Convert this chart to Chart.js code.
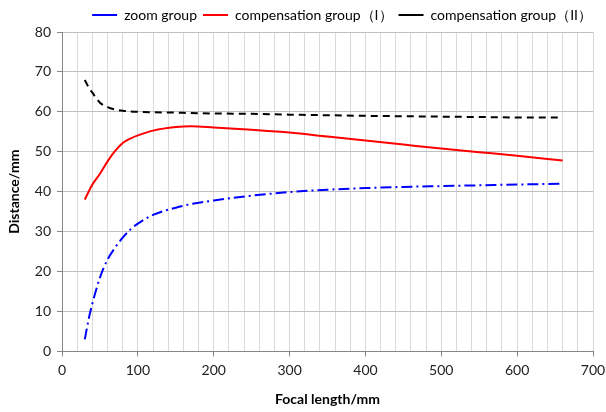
<!DOCTYPE html>
<html>
<head>
<meta charset="utf-8">
<script src="https://cdn.jsdelivr.net/npm/chart.js@4.4.1/dist/chart.umd.min.js"></script>
<style>
  html, body { margin: 0; padding: 0; background: #fff; }
  #wrap { width: 606px; height: 412px; }
</style>
</head>
<body>
<div id="wrap"><canvas id="focalChart"></canvas></div>
<script>
// focal length samples (mm)
const focal = [30, 35, 40, 50, 60, 70, 80, 90, 100, 120, 150, 170, 200, 250, 300, 350, 400, 450, 500, 550, 600, 660];

// series values (mm)
const zoomGroup = [3, 8, 12, 18.5, 23, 26, 28.5, 30.5, 32, 34.2, 36, 36.9, 37.8, 39, 39.9, 40.5, 40.9, 41.2, 41.4, 41.6, 41.8, 42];
const compGroup1 = [38, 40, 41.8, 44.5, 47.6, 50.2, 52.2, 53.3, 54.1, 55.3, 56.2, 56.4, 56.1, 55.5, 54.8, 53.8, 52.8, 51.8, 50.8, 49.9, 49, 47.8];
const compGroup2 = [68, 66.2, 64.8, 62.3, 61.2, 60.6, 60.3, 60.1, 60, 59.9, 59.8, 59.7, 59.6, 59.5, 59.3, 59.15, 59, 58.9, 58.8, 58.7, 58.6, 58.6];

const seriesNames = ['zoom group', 'compensation group（I）', 'compensation group（II）'];
const xTicks = [0, 100, 200, 300, 400, 500, 600, 700];
const yTicks = [0, 10, 20, 30, 40, 50, 60, 70, 80];

const FONT = 'Lato, "Open Sans", sans-serif';

function pts(values) {
  return focal.map((f, i) => ({ x: f, y: values[i] }));
}

new Chart(document.getElementById('focalChart'), {
  type: 'line',
  data: {
    datasets: [
      {
        label: seriesNames[0],
        data: pts(zoomGroup),
        borderColor: '#0000ff',
        backgroundColor: '#0000ff',
        borderWidth: 2,
        borderDash: [11, 4, 2, 4],
        pointRadius: 0,
        cubicInterpolationMode: 'monotone'
      },
      {
        label: seriesNames[1],
        data: pts(compGroup1),
        borderColor: '#ff0000',
        backgroundColor: '#ff0000',
        borderWidth: 2,
        pointRadius: 0,
        cubicInterpolationMode: 'monotone'
      },
      {
        label: seriesNames[2],
        data: pts(compGroup2),
        borderColor: '#000000',
        backgroundColor: '#000000',
        borderWidth: 2,
        borderDash: [7, 5],
        pointRadius: 0,
        cubicInterpolationMode: 'monotone'
      }
    ]
  },
  options: {
    responsive: true,
    maintainAspectRatio: false,
    animation: false,
    layout: { padding: { top: 2, right: 8, bottom: 4, left: 6 } },
    plugins: {
      legend: {
        position: 'top',
        align: 'end',
        labels: {
          usePointStyle: true,
          pointStyle: 'line',
          pointStyleWidth: 25,
          boxHeight: 10,
          padding: 6,
          color: '#000',
          font: { family: FONT, size: 14 }
        }
      },
      tooltip: { enabled: false }
    },
    scales: {
      x: {
        type: 'linear',
        min: 0,
        max: 700,
        afterFit: (scale) => { scale.paddingRight = 13; },
        border: { color: '#868686', width: 1 },
        grid: {
          color: '#d9d9d9',
          tickLength: 5,
          tickColor: (c) => (c.tick && c.tick.value % 100 === 0 ? '#868686' : 'rgba(0,0,0,0)')
        },
        ticks: {
          stepSize: 20,
          autoSkip: false,
          maxRotation: 0,
          color: '#222',
          font: { family: FONT, size: 14 },
          padding: 6,
          callback: (v) => (xTicks.includes(v) ? String(v) : '')
        },
        title: {
          display: true,
          text: 'Focal length/mm',
          color: '#000',
          font: { family: FONT, size: 14, weight: 'bold' },
          padding: { top: 6, bottom: 0 }
        }
      },
      y: {
        min: 0,
        max: 80,
        border: { color: '#868686', width: 1 },
        grid: {
          color: '#c0c0c0',
          tickLength: 5,
          tickColor: '#868686'
        },
        ticks: {
          stepSize: 10,
          color: '#222',
          font: { family: FONT, size: 14 },
          padding: 6,
          callback: (v) => (yTicks.includes(v) ? String(v) : '')
        },
        title: {
          display: true,
          text: 'Distance/mm',
          color: '#000',
          font: { family: FONT, size: 14, weight: 'bold' },
          padding: { top: 0, bottom: 6 }
        }
      }
    }
  }
});
</script>
</body>
</html>
